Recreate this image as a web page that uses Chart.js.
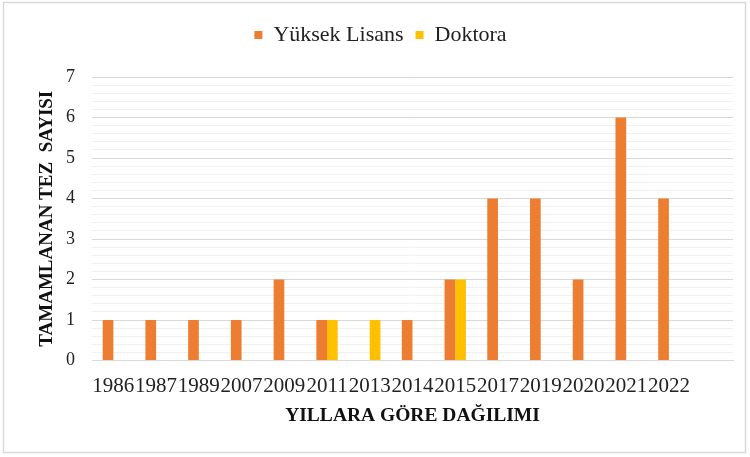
<!DOCTYPE html>
<html>
<head>
<meta charset="utf-8">
<script src="https://cdn.jsdelivr.net/npm/chart.js@4.4.1/dist/chart.umd.min.js"></script>
<style>
html,body{margin:0;padding:0;background:#fff;}
#wrap{position:relative;width:750px;height:457px;}
</style>
</head>
<body>
<div id="wrap"><canvas id="c" width="750" height="457"></canvas></div>
<script>
const categories = ["1986","1987","1989","2007","2009","2011","2013","2014","2015","2017","2019","2020","2021","2022",""];
const yuksekLisans = [1,1,1,1,2,1,0,1,2,4,4,2,6,4,null];
const doktora = [0,0,0,0,0,1,1,0,2,0,0,0,0,0,null];
const seriesNames = ["Yüksek Lisans","Doktora"];
const xTitle = "YILLARA GÖRE DAĞILIMI";
const yTitle = "TAMAMLANAN TEZ  SAYISI";

const isInt = v => Math.abs(v - Math.round(v)) < 1e-6;
const serif = "'Liberation Serif', 'Times New Roman', serif";
Chart.defaults.font.family = serif;

const borderPlugin = {
  id: 'outerBorder',
  afterInit(chart) {
    const lg = chart.legend;
    if (lg) {
      const orig = lg.fit.bind(lg);
      lg.fit = function () { orig(); this.height += 21; };
    }
  },
  beforeDraw(chart) {
    const c = chart.ctx;
    c.save();
    c.fillStyle = '#fff';
    c.fillRect(0, 0, chart.width, chart.height);
    c.strokeStyle = '#d9d9d9';
    c.lineWidth = 1.5;
    c.strokeRect(3.5, 2.5, 742, 450);
    c.restore();
  }
};

new Chart(document.getElementById('c'), {
  type: 'bar',
  data: {
    labels: categories,
    datasets: [
      { label: seriesNames[0], data: yuksekLisans, backgroundColor: '#ED7D31' },
      { label: seriesNames[1], data: doktora, backgroundColor: '#FFC000' }
    ]
  },
  plugins: [borderPlugin],
  options: {
    responsive: false,
    animation: false,
    devicePixelRatio: 1,
    layout: { padding: { left: 28, right: 17, top: 12, bottom: 10 } },
    datasets: { bar: { categoryPercentage: 0.5, barPercentage: 1.0 } },
    plugins: {
      legend: {
        position: 'top',
        labels: {
          boxWidth: 8, boxHeight: 8,
          font: { family: serif, size: 22 },
          color: '#222',
          padding: 12
        }
      },
      tooltip: { enabled: false }
    },
    scales: {
      x: {
        grid: { display: false, drawTicks: false },
        border: { display: true, color: '#d9d9d9' },
        ticks: { font: { family: serif, size: 21 }, color: '#222', padding: 13, maxRotation: 0, autoSkip: false },
        title: { display: true, text: xTitle, font: { family: serif, size: 19.5, weight: 'bold' }, color: '#111', padding: { top: 0, bottom: 19 } },
        afterFit(scale) { scale.height = 86.5; }
      },
      y: {
        min: 0, max: 7,
        border: { display: false },
        grid: {
          drawTicks: false,
          color: ctx => (ctx.tick && isInt(ctx.tick.value)) ? '#d9d9d9' : '#f0f0f0',
          lineWidth: 1
        },
        ticks: {
          stepSize: 0.2,
          autoSkip: false,
          padding: 17,
          font: { family: serif, size: 18 },
          color: '#222',
          callback: v => isInt(v) ? String(Math.round(v)) : ''
        },
        title: { display: true, text: yTitle, font: { family: serif, size: 19, weight: 'bold' }, color: '#111', padding: { top: 8, bottom: 0 } },
        afterFit(scale) { scale.width = 64; }
      }
    }
  }
});
</script>
</body>
</html>
